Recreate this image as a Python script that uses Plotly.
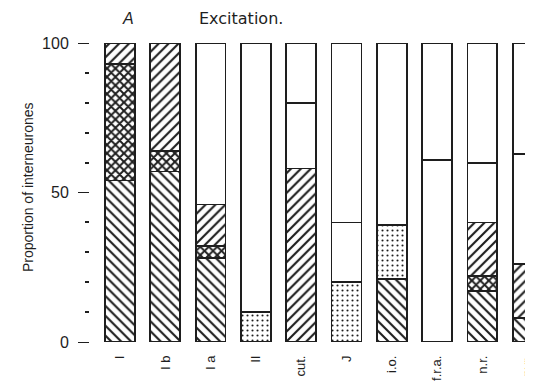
import plotly.graph_objects as go

# Categories (x axis)
categories = ["I", "I b", "I a", "II", "cut.", "J", "i.o.", "f.r.a.", "n.r.", "pyr."]

# Stacked segments per bar, bottom to top (percent of interneurones)
layer1_vals = [54, 57, 28, 10, 58, 20, 21, 61, 17, 8]
layer1_shape = ["\\", "\\", "\\", ".", "/", ".", "\\", "", "\\", "\\"]

layer2_vals = [39, 7, 4, 90, 22, 20, 18, 39, 5, 18]
layer2_shape = ["x", "x", "x", "", "", "", ".", "", "x", "/"]

layer3_vals = [7, 36, 14, 0, 20, 60, 61, 0, 18, 37]
layer3_shape = ["/", "/", "/", "", "", "", "", "", "/", ""]

layer4_vals = [0, 0, 54, 0, 0, 0, 0, 0, 20, 37]
layer4_shape = ["", "", "", "", "", "", "", "", "", ""]

layer5_vals = [0, 0, 0, 0, 0, 0, 0, 0, 40, 0]
layer5_shape = ["", "", "", "", "", "", "", "", "", ""]

y_major = [0, 50, 100]
y_minor = [10, 20, 30, 40, 60, 70, 80, 90]

INK = "#1e1e1e"
FONT = "Liberation Sans, Arial, sans-serif"

def pattern_sizes(shapes):
    return [6 if s == "x" else (5 if s == "." else 7) for s in shapes]

def pattern_solid(shapes):
    return [0.55 if s == "x" else (0.14 if s == "." else 0.3) for s in shapes]

fig = go.Figure()
layers = [
    (layer1_vals, layer1_shape),
    (layer2_vals, layer2_shape),
    (layer3_vals, layer3_shape),
    (layer4_vals, layer4_shape),
    (layer5_vals, layer5_shape),
]
for vals, shapes in layers:
    fig.add_trace(go.Bar(
        x=list(range(len(categories))),
        y=vals,
        width=0.66,
        marker=dict(
            color="white",
            line=dict(color=INK, width=1.8),
            pattern=dict(
                shape=shapes,
                fgcolor=INK,
                fgopacity=1,
                bgcolor="white",
                size=pattern_sizes(shapes),
                solidity=pattern_solid(shapes),
                fillmode="replace",
            ),
        ),
        showlegend=False,
        hoverinfo="skip",
    ))

# page body has an 8px margin, so the figure is sized to fit the 533x390 window
fig.update_layout(
    barmode="stack",
    width=525,
    height=382,
    margin=dict(l=82, r=0, t=35, b=48, autoexpand=False),
    paper_bgcolor="white",
    plot_bgcolor="white",
    font=dict(family=FONT, color=INK),
    xaxis=dict(
        range=[-0.662, 9.117],
        tickmode="array",
        tickvals=list(range(len(categories))),
        ticktext=categories,
        tickangle=-90,
        ticks="",
        showline=False,
        showgrid=False,
        zeroline=False,
        tickfont=dict(size=13, family=FONT, color=INK),
        ticklabelstandoff=10,
        ticklabeloverflow="allow",
    ),
    yaxis=dict(
        range=[0, 100],
        tickmode="array",
        tickvals=y_major,
        ticktext=[str(v) for v in y_major],
        ticks="outside",
        ticklen=11,
        tickwidth=1.3,
        tickcolor=INK,
        minor=dict(tickvals=y_minor, ticks="outside", ticklen=4, tickwidth=1.6, tickcolor=INK),
        showline=False,
        showgrid=False,
        zeroline=False,
        tickfont=dict(size=16, family=FONT, color=INK),
        ticklabelstandoff=6,
    ),
    annotations=[
        dict(text="Proportion of interneurones", xref="paper", yref="paper",
             x=0, y=0.518, xshift=-62, textangle=-90, showarrow=False,
             font=dict(size=14, family=FONT, color=INK), xanchor="center", yanchor="middle"),
        dict(text="<i>A</i>", xref="paper", yref="paper", x=0.0858, y=1, yshift=25,
             showarrow=False, font=dict(size=16, family=FONT, color=INK),
             xanchor="center", yanchor="middle"),
        dict(text="Excitation.", xref="paper", yref="paper", x=0.2415, y=1, yshift=25,
             showarrow=False, font=dict(size=16, family="DejaVu Sans, sans-serif", color=INK),
             xanchor="left", yanchor="middle"),
    ],
)

fig.write_html("out.html")
